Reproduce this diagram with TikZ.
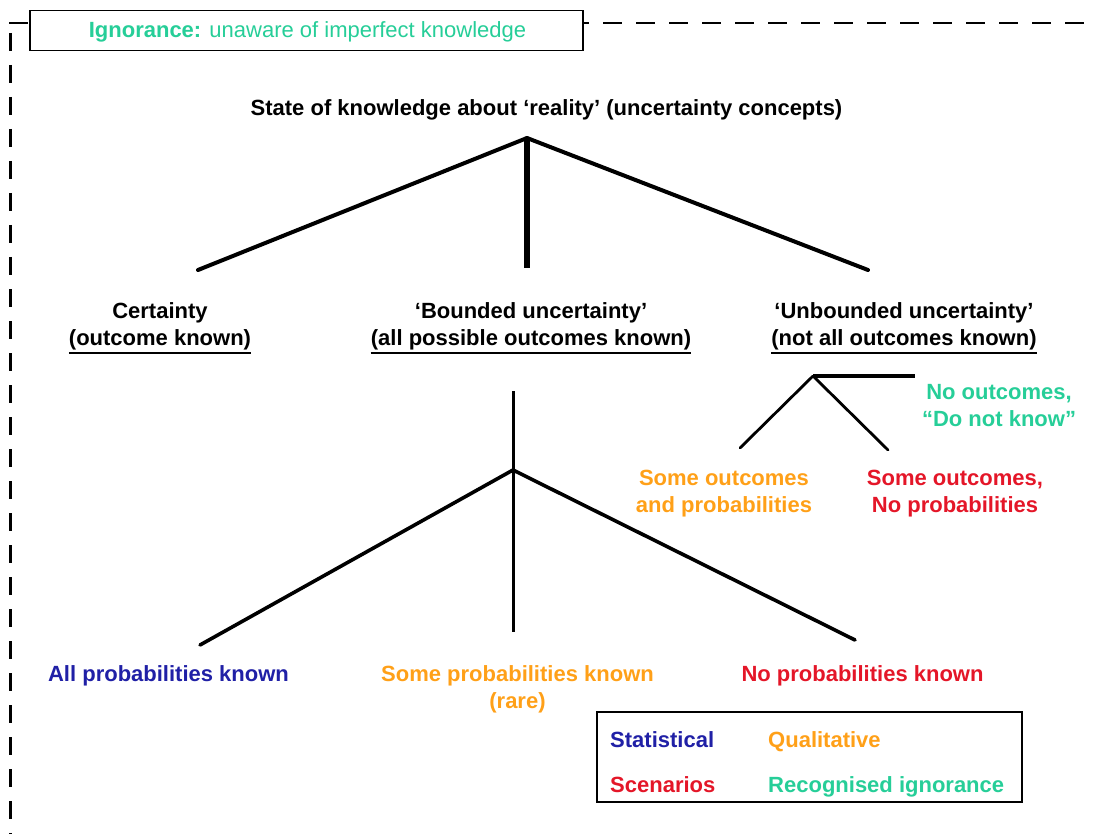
\documentclass[tikz,border=0pt]{standalone}
\usepackage{fontspec}
\setmainfont{Liberation Sans}
\definecolor{ignor}{RGB}{38,206,152}
\definecolor{qual}{RGB}{255,160,24}
\definecolor{scen}{RGB}{228,22,40}
\definecolor{stat}{RGB}{32,32,166}
\begin{document}
\begin{tikzpicture}[x=1pt,y=-1pt,
  txt/.style={font=\fontsize{22}{26.5}\selectfont\bfseries, inner sep=0pt, anchor=base, align=center},
  branch/.style={line width=4pt, line cap=round},
  twig/.style={line width=3.6pt, line cap=round},
  rule/.style={line width=1.5pt},
  frame/.style={draw, line width=1.4pt, fill=white}]
\useasboundingbox (0,0) rectangle (1097,834);

% dashed boundary of ignorance
\coordinate (tl) at (9,23);
\coordinate (tr) at (1097,23);
\coordinate (lt) at (10,33);
\coordinate (lb) at (10,834);
\draw[line width=1.5pt, dash pattern=on 19pt off 14pt] (tl) -- (tr);
\draw[line width=3pt, dash pattern=on 18pt off 14pt] (lt) -- (lb);

% ignorance caption
\node[frame, minimum width=553pt, minimum height=40pt, inner sep=0pt] (ignbox) at (306.5,30.5) {};
\node[txt, text=ignor, font=\fontsize{22}{26.5}\selectfont] (ign) at (307.5,38) {\textbf{Ignorance:} unaware of imperfect knowledge};

% root (multi-line nodes are placed by the baseline of their last line)
\node[txt] (root) at (546.5,116) {State of knowledge about ‘reality’ (uncertainty concepts)};
\coordinate (r) at (527,138);
\coordinate (rl) at (198,270);
\coordinate (rm) at (527,268);
\coordinate (rr) at (868,270);
\draw[branch] (r) -- (rl);
\draw[branch] (r) -- (rr);
\draw[line width=6pt] (r) -- (rm);

% second level
\node[txt, inner ysep=3pt] (cert) at (160,345) {Certainty\\(outcome known)};
\node[txt, inner ysep=3pt] (bound) at (531,345) {‘Bounded uncertainty’\\(all possible outcomes known)};
\node[txt, inner ysep=3pt] (unbound) at (904,345) {‘Unbounded uncertainty’\\(not all outcomes known)};
\draw[rule] (cert.south west) -- (cert.south east);
\draw[rule] (bound.south west) -- (bound.south east);
\draw[rule] (unbound.south west) -- (unbound.south east);

% bounded uncertainty subtree
\coordinate (bt) at (513,391);
\coordinate (bj) at (513,470);
\coordinate (bb) at (513,632);
\coordinate (bl) at (200,645);
\coordinate (br) at (855,640);
\draw[line width=3pt] (bt) -- (bb);
\draw[twig] (bj) -- (bl);
\draw[twig] (bj) -- (br);

\node[txt, text=stat] (allp) at (168.5,681) {All probabilities known};
\node[txt, text=qual] (somep) at (517.5,708) {Some probabilities known\\(rare)};
\node[txt, text=scen] (nop) at (862.5,681) {No probabilities known};

% unbounded uncertainty subtree
\coordinate (uj) at (813,376);
\coordinate (uh) at (915,376);
\coordinate (ul) at (740,448);
\coordinate (ur) at (888,450);
\draw[line width=3.2pt] (uj) -- (uh);
\draw[line width=2.8pt, line cap=round] (uj) -- (ul);
\draw[line width=2.8pt, line cap=round] (uj) -- (ur);

\node[txt, text=ignor] (noout) at (999,426) {No outcomes,\\“Do not know”};
\node[txt, text=qual] (someo) at (724,512) {Some outcomes\\and probabilities};
\node[txt, text=scen] (someon) at (955,512) {Some outcomes,\\No probabilities};

% legend
\node[frame, minimum width=425pt, minimum height=90pt, inner sep=0pt] (legend) at (809.5,757) {};
\node[txt, anchor=base west, text=stat] (lstat) at (610,747) {Statistical};
\node[txt, anchor=base west, text=qual] (lqual) at (768,747) {Qualitative};
\node[txt, anchor=base west, text=scen] (lscen) at (610,792) {Scenarios};
\node[txt, anchor=base west, text=ignor] (lign) at (768,792) {Recognised ignorance};
\end{tikzpicture}
\end{document}
